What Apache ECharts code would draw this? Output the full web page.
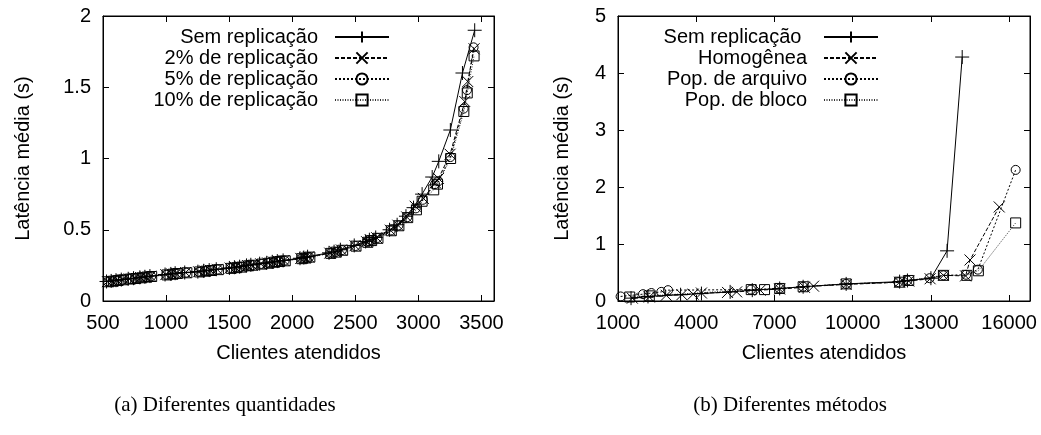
<!DOCTYPE html>
<html>
<head>
<meta charset="utf-8">
<script src="https://cdn.jsdelivr.net/npm/echarts@6/dist/echarts.min.js"></script>
<style>
html, body { margin: 0; padding: 0; background: #fff; }
#chart { width: 1041px; height: 435px; }
</style>
</head>
<body>
<div id="chart"></div>
<script>
// (a) Diferentes quantidades
var leftNames = ['Sem replicação', '2% de replicação', '5% de replicação', '10% de replicação'];
var leftSem = [
    [528,0.137],[565,0.141],[603,0.146],[645,0.150],[700,0.156],[742,0.160],[792,0.166],[832,0.170],[872,0.175],
    [992,0.186],[1038,0.190],[1072,0.195],[1148,0.200],[1252,0.206],[1298,0.212],[1342,0.217],[1398,0.223],
    [1502,0.232],[1542,0.237],[1583,0.241],[1638,0.250],[1672,0.254],[1742,0.262],[1798,0.268],[1842,0.275],[1882,0.280],[1928,0.285],
    [2062,0.300],[2092,0.305],[2122,0.311],[2292,0.338],[2332,0.346],[2382,0.360],[2492,0.390],[2582,0.418],[2612,0.430],[2662,0.446],
    [2772,0.500],[2832,0.535],[2902,0.595],[2962,0.655],[3030,0.750],[3110,0.870],[3162,0.980],[3254,1.200],[3350,1.600],[3447,1.900]
];
var left2 = [
    [535,0.136],[572,0.140],[610,0.145],[652,0.150],[708,0.155],[750,0.160],[798,0.165],[838,0.169],[878,0.174],
    [998,0.185],[1045,0.190],[1080,0.194],[1155,0.200],[1258,0.205],[1305,0.211],[1350,0.216],[1405,0.222],
    [1508,0.231],[1550,0.236],[1590,0.240],[1645,0.249],[1680,0.253],[1750,0.261],[1805,0.267],[1850,0.274],[1890,0.279],[1935,0.284],
    [2068,0.299],[2100,0.304],[2130,0.310],[2298,0.336],[2340,0.345],[2390,0.358],[2498,0.388],[2590,0.416],[2620,0.428],[2670,0.444],
    [2778,0.497],[2838,0.532],[2908,0.590],[2975,0.665],[3040,0.720],[3135,0.830],[3160,0.860],[3252,1.030],[3368,1.400],[3392,1.540],[3442,1.770]
];
var left5 = [
    [540,0.135],[578,0.140],[615,0.144],[658,0.149],[712,0.154],[755,0.159],[803,0.164],[843,0.168],[882,0.173],
    [1003,0.184],[1050,0.189],[1085,0.193],[1160,0.199],[1262,0.204],[1310,0.210],[1355,0.215],[1410,0.221],
    [1512,0.230],[1555,0.235],[1595,0.239],[1650,0.248],[1685,0.252],[1755,0.260],[1810,0.266],[1855,0.273],[1895,0.278],[1940,0.283],
    [2072,0.298],[2105,0.303],[2135,0.309],[2302,0.335],[2345,0.344],[2395,0.357],[2502,0.386],[2595,0.414],[2625,0.426],[2675,0.442],
    [2782,0.495],[2842,0.530],[2912,0.588],[2980,0.650],[3035,0.710],[3132,0.820],[3158,0.840],[3254,1.010],[3359,1.350],[3386,1.480],[3438,1.780]
];
var left10 = [
    [545,0.135],[582,0.139],[620,0.144],[662,0.149],[716,0.154],[760,0.158],[808,0.163],[848,0.168],[886,0.172],
    [1008,0.183],[1055,0.188],[1090,0.193],[1165,0.198],[1266,0.204],[1315,0.209],[1360,0.214],[1415,0.220],
    [1516,0.229],[1560,0.234],[1600,0.238],[1655,0.247],[1690,0.251],[1760,0.259],[1815,0.265],[1860,0.272],[1900,0.277],[1945,0.282],
    [2076,0.297],[2110,0.302],[2140,0.308],[2306,0.334],[2350,0.343],[2400,0.356],[2506,0.385],[2600,0.412],[2630,0.424],[2680,0.440],
    [2786,0.493],[2846,0.528],[2916,0.585],[2985,0.640],[3030,0.700],[3122,0.780],[3152,0.820],[3256,1.000],[3361,1.330],[3388,1.460],[3442,1.720]
];
var leftXTicks = [500, 1000, 1500, 2000, 2500, 3000, 3500];
var leftYTicks = [0, 0.5, 1, 1.5, 2];

// (b) Diferentes métodos
var rightNames = ['Sem replicação ', 'Homogênea', 'Pop. de arquivo', 'Pop. de bloco'];
var rightSem = [
    [1500,0.05],[2150,0.08],[3400,0.11],[4200,0.13],[5300,0.16],[6150,0.19],[7200,0.22],[8100,0.25],
    [9750,0.30],[11800,0.34],[12100,0.36],[13000,0.40],[13620,0.88],[14200,4.28]
];
var rightHomo = [
    [1550,0.05],[2200,0.07],[2850,0.10],[3450,0.11],[3880,0.12],[4200,0.14],[5200,0.15],[5550,0.16],[6450,0.19],
    [7200,0.21],[8150,0.24],[8500,0.26],[9750,0.29],[11800,0.33],[12150,0.35],[12970,0.39],[13480,0.45],
    [14330,0.44],[14500,0.72],[15620,1.65]
];
var rightArq = [
    [1100,0.08],[1960,0.12],[2280,0.14],[2660,0.16],[2920,0.19],[6100,0.20],[7200,0.22],[8100,0.25],[9750,0.30],
    [11750,0.33],[12100,0.36],[12950,0.40],[13480,0.45],[14350,0.46],[14800,0.55],[16250,2.30]
];
var rightBloco = [
    [1450,0.07],[2200,0.09],[6110,0.20],[6620,0.20],[7200,0.22],[8100,0.25],[9750,0.30],[11800,0.33],
    [12150,0.36],[13480,0.45],[14380,0.45],[14820,0.53],[16250,1.37]
];
var rightXTicks = [1000, 4000, 7000, 10000, 13000, 16000];
var rightYTicks = [0, 1, 2, 3, 4, 5];

var FONT = '"Liberation Sans", Arial, sans-serif';
var SERIF = '"Liberation Serif", "Times New Roman", serif';
var plusPath = 'path://M0,7L14,7M7,0L7,14';
var crossPath = 'path://M0,0L10,10M10,0L0,10';

var markers = [
    {symbol: plusPath, size: 14, dash: 'solid', color: '#000'},
    {symbol: crossPath, size: 11, dash: [4, 2], color: '#000'},
    {symbol: 'circle', size: 9, dash: [2, 2], color: '#000'},
    {symbol: 'rect', size: 10, dash: [1, 1.5], color: '#333'}
];

function makeSeries(name, data, k, axisIndex) {
    var m = markers[k];
    return {
        name: name,
        type: 'line',
        xAxisIndex: axisIndex,
        yAxisIndex: axisIndex,
        data: data,
        symbol: m.symbol,
        symbolSize: m.size,
        showAllSymbol: true,
        lineStyle: {color: m.color, width: 1, type: m.dash},
        itemStyle: {color: 'rgba(0,0,0,0)', borderColor: '#000', borderWidth: 1},
        emphasis: {disabled: true},
        z: 4 - k
    };
}

function valueAxis(grid, pos, min, max, ticks, showLabel, name, gap) {
    var ax = {
        type: 'value',
        gridIndex: grid,
        position: pos,
        min: min,
        max: max,
        axisLine: {show: true, onZero: false, lineStyle: {color: '#000', width: 1}},
        axisTick: {show: true, inside: true, length: 6, customValues: ticks, lineStyle: {color: '#000'}},
        axisLabel: {
            show: showLabel, customValues: ticks, color: '#000', fontSize: 20, fontFamily: FONT, margin: 12,
            formatter: function (v) { return String(v); }
        },
        splitLine: {show: false}
    };
    if (name) {
        ax.name = name;
        ax.nameLocation = 'middle';
        ax.nameGap = gap;
        ax.nameTextStyle = {color: '#000', fontSize: 20, fontFamily: FONT};
    }
    return ax;
}

var series = [];
var leftData = [leftSem, left2, left5, left10];
var rightData = [rightSem, rightHomo, rightArq, rightBloco];
for (var i = 0; i < 4; i++) {
    series.push(makeSeries(leftNames[i], leftData[i], i, 0));
}
// o nome da série sem replicação à direita leva um espaço no fim, para o legend de cada grid ficar separado
for (var j = 0; j < 4; j++) {
    series.push(makeSeries(rightNames[j], rightData[j], j, 2));
}

function legendFor(names, right) {
    return {
        data: names,
        orient: 'vertical',
        align: 'right',
        right: right,
        top: 22,
        itemWidth: 54,
        itemHeight: 14,
        itemGap: 1,
        selectedMode: false,
        textStyle: {color: '#000', fontSize: 20, fontFamily: FONT, lineHeight: 20, padding: [0, 12, 0, 0]}
    };
}

var option = {
    animation: false,
    backgroundColor: '#fff',
    grid: [
        {left: 103, top: 16, width: 391, height: 285, show: true, borderColor: '#000', borderWidth: 1},
        {left: 618, top: 16, width: 412, height: 285, show: true, borderColor: '#000', borderWidth: 1}
    ],
    xAxis: [
        valueAxis(0, 'bottom', 500, 3600, leftXTicks, true, 'Clientes atendidos', 42),
        valueAxis(0, 'top', 500, 3600, leftXTicks, false),
        valueAxis(1, 'bottom', 1000, 16800, rightXTicks, true, 'Clientes atendidos', 42),
        valueAxis(1, 'top', 1000, 16800, rightXTicks, false)
    ],
    yAxis: [
        valueAxis(0, 'left', 0, 2, leftYTicks, true, 'Latência média (s)', 70),
        valueAxis(0, 'right', 0, 2, leftYTicks, false),
        valueAxis(1, 'left', 0, 5, rightYTicks, true, 'Latência média (s)', 46),
        valueAxis(1, 'right', 0, 5, rightYTicks, false)
    ],
    legend: [
        legendFor(leftNames, 646),
        legendFor(rightNames, 157)
    ],
    graphic: [
        {type: 'text', x: 225, y: 405, style: {text: '(a) Diferentes quantidades', fontSize: 21, fontFamily: SERIF, fill: '#000', align: 'center', verticalAlign: 'middle'}},
        {type: 'text', x: 790, y: 405, style: {text: '(b) Diferentes métodos', fontSize: 21, fontFamily: SERIF, fill: '#000', align: 'center', verticalAlign: 'middle'}}
    ],
    series: series
};

var myChart = echarts.init(document.getElementById('chart'));
myChart.setOption(option);
</script>
</body>
</html>
